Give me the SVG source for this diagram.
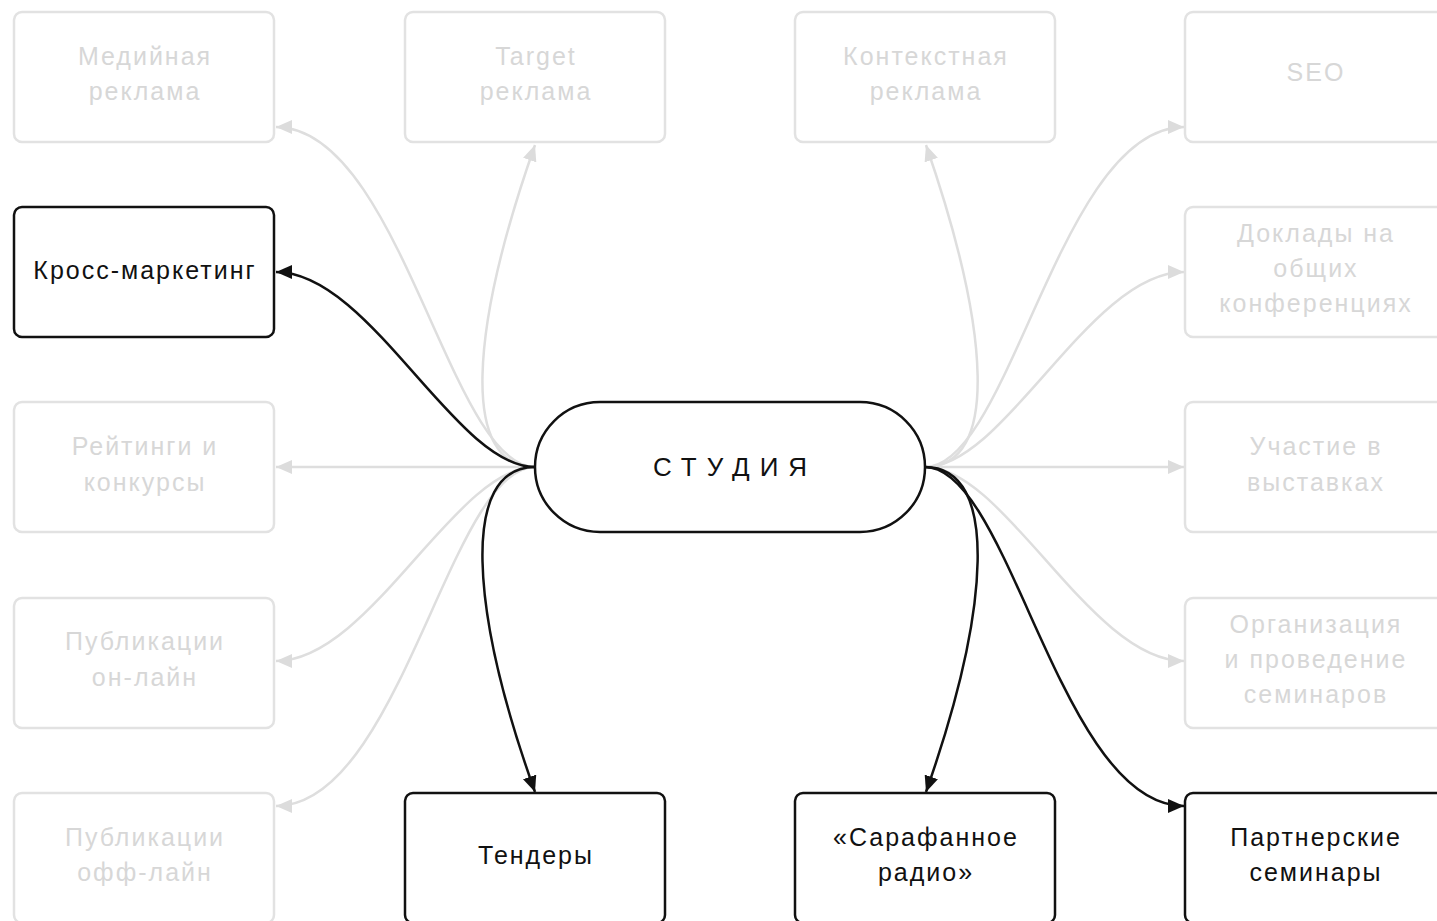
<svg xmlns="http://www.w3.org/2000/svg" width="1437" height="921" viewBox="0 0 1437 921">
<style>
.box{fill:#fff;stroke-width:2.5}
.on .box{stroke:#111}
.off .box{stroke:#e2e2e2}
text{font-family:"Liberation Sans",Arial,sans-serif;font-size:25px;letter-spacing:2px;text-anchor:middle}
.on text{fill:#111}
.off text{fill:#d7d7d7}
.c{fill:none;stroke-width:2.5}
.cb{stroke:#111}
.cg{stroke:#dedede}
</style>
<defs>
<marker id="ab" markerUnits="userSpaceOnUse" markerWidth="18" markerHeight="14" refX="16" refY="7" orient="auto"><path d="M0,0 L16,7 L0,14 Z" fill="#111"/></marker>
<marker id="ag" markerUnits="userSpaceOnUse" markerWidth="18" markerHeight="14" refX="16" refY="7" orient="auto"><path d="M0,0 L16,7 L0,14 Z" fill="#dcdcdc"/></marker>
</defs>
<g id="connectors">
<path class="c cg" marker-end="url(#ag)" d="M535,467 C450,467 400,127 276,127"/>
<path class="c cg" marker-end="url(#ag)" d="M535,467 C460,467 470,330 535,145"/>
<path class="c cg" marker-end="url(#ag)" d="M535,467 L276,467"/>
<path class="c cg" marker-end="url(#ag)" d="M535,467 C455,467 370,661 276,661"/>
<path class="c cg" marker-end="url(#ag)" d="M535,467 C450,467 400,806 276,806"/>
<path class="c cg" marker-end="url(#ag)" d="M925,467 C1000,467 990,330 926,145"/>
<path class="c cg" marker-end="url(#ag)" d="M925,467 C1010,467 1060,127 1184,127"/>
<path class="c cg" marker-end="url(#ag)" d="M925,467 C1005,467 1090,272 1184,272"/>
<path class="c cg" marker-end="url(#ag)" d="M925,467 L1184,467"/>
<path class="c cg" marker-end="url(#ag)" d="M925,467 C1005,467 1090,661 1184,661"/>
<path class="c cb" marker-end="url(#ab)" d="M535,467 C455,467 370,272 276,272"/>
<path class="c cb" marker-end="url(#ab)" d="M535,467 C460,467 470,610 535,792"/>
<path class="c cb" marker-end="url(#ab)" d="M925,467 C1000,467 990,610 926,792"/>
<path class="c cb" marker-end="url(#ab)" d="M925,467 C1010,467 1060,806 1184,806"/>
</g>
<g id="studio" class="on"><rect class="box" x="535" y="402" width="390" height="130" rx="65"/><text x="735" y="476" style="font-size:26px;letter-spacing:10px">СТУДИЯ</text></g>
<g id="media" class="off"><rect class="box" x="14" y="12" width="260" height="130" rx="8"/><text x="145" y="65">Медийная</text><text x="145" y="100">реклама</text></g>
<g id="target" class="off"><rect class="box" x="405" y="12" width="260" height="130" rx="8"/><text x="536" y="65">Target</text><text x="536" y="100">реклама</text></g>
<g id="context" class="off"><rect class="box" x="795" y="12" width="260" height="130" rx="8"/><text x="926" y="65">Контекстная</text><text x="926" y="100">реклама</text></g>
<g id="seo" class="off"><rect class="box" x="1185" y="12" width="260" height="130" rx="8"/><text x="1316" y="81">SEO</text></g>
<g id="cross" class="on"><rect class="box" x="14" y="207" width="260" height="130" rx="8"/><text x="145" y="279">Кросс-маркетинг</text></g>
<g id="reports" class="off"><rect class="box" x="1185" y="207" width="260" height="130" rx="8"/><text x="1316" y="242">Доклады на</text><text x="1316" y="277">общих</text><text x="1316" y="312">конференциях</text></g>
<g id="ratings" class="off"><rect class="box" x="14" y="402" width="260" height="130" rx="8"/><text x="145" y="455">Рейтинги и</text><text x="145" y="491">конкурсы</text></g>
<g id="expo" class="off"><rect class="box" x="1185" y="402" width="260" height="130" rx="8"/><text x="1316" y="455">Участие в</text><text x="1316" y="491">выставках</text></g>
<g id="pubon" class="off"><rect class="box" x="14" y="598" width="260" height="130" rx="8"/><text x="145" y="650">Публикации</text><text x="145" y="686">он-лайн</text></g>
<g id="seminars" class="off"><rect class="box" x="1185" y="598" width="260" height="130" rx="8"/><text x="1316" y="633">Организация</text><text x="1316" y="668">и проведение</text><text x="1316" y="703">семинаров</text></g>
<g id="puboff" class="off"><rect class="box" x="14" y="793" width="260" height="130" rx="8"/><text x="145" y="846">Публикации</text><text x="145" y="881">офф-лайн</text></g>
<g id="tenders" class="on"><rect class="box" x="405" y="793" width="260" height="130" rx="8"/><text x="536" y="864">Тендеры</text></g>
<g id="radio" class="on"><rect class="box" x="795" y="793" width="260" height="130" rx="8"/><text x="926" y="846">«Сарафанное</text><text x="926" y="881">радио»</text></g>
<g id="partner" class="on"><rect class="box" x="1185" y="793" width="260" height="130" rx="8"/><text x="1316" y="846">Партнерские</text><text x="1316" y="881">семинары</text></g>
</svg>
